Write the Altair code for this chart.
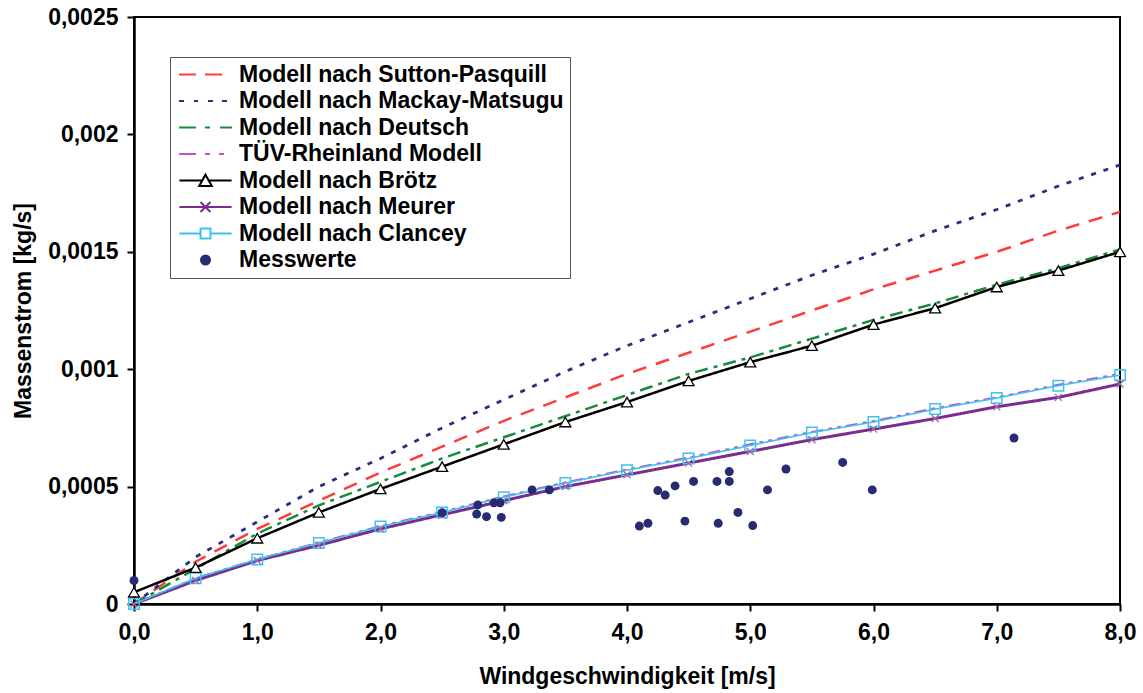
import altair as alt
import pandas as pd

# ---------------- data ----------------
x_vals = [0.0, 0.5, 1.0, 1.5, 2.0, 2.5, 3.0, 3.5, 4.0, 4.5, 5.0, 5.5, 6.0, 6.5, 7.0, 7.5, 8.0]

sutton = [0.0, 0.00018, 0.00032, 0.00044, 0.00056, 0.00067, 0.00078, 0.00088, 0.00098,
          0.00107, 0.00116, 0.00125, 0.00134, 0.00142, 0.00150, 0.00159, 0.00167]
mackay = [0.0, 0.00020, 0.00035, 0.00050, 0.00062, 0.00075, 0.00087, 0.00099, 0.00110,
          0.00120, 0.00130, 0.00140, 0.00149, 0.00159, 0.00168, 0.00178, 0.00187]
deutsch = [0.0, 0.00015, 0.00030, 0.00042, 0.00052, 0.00062, 0.00071, 0.00080, 0.00089,
           0.00098, 0.00105, 0.00113, 0.00121, 0.00128, 0.00136, 0.00143, 0.00151]
tuev = [0.0, 0.00011, 0.00019, 0.000262, 0.000332, 0.000393, 0.000458, 0.000518, 0.000573,
        0.000624, 0.00068, 0.000733, 0.000779, 0.000834, 0.00088, 0.000934, 0.00098]
broetz = [0.00005, 0.000155, 0.00028, 0.00039, 0.00049, 0.000585, 0.00068, 0.000775, 0.00086,
          0.00095, 0.00103, 0.00110, 0.00119, 0.00126, 0.00135, 0.00142, 0.00150]
meurer = [0.0, 0.00010, 0.000185, 0.00025, 0.00032, 0.00038, 0.00044, 0.00050, 0.00055,
          0.00060, 0.00065, 0.00070, 0.000745, 0.00079, 0.00084, 0.00088, 0.000937]
clancey = [0.0, 0.00011, 0.00019, 0.00026, 0.00033, 0.00039, 0.000455, 0.000515, 0.00057,
           0.00062, 0.000675, 0.00073, 0.000775, 0.00083, 0.000877, 0.00093, 0.000975]

mess_x = [0.0, 2.50, 2.79, 2.78, 2.86, 2.92, 2.97, 2.98, 3.23, 3.37, 4.10, 4.17, 4.25, 4.31,
          4.39, 4.47, 4.54, 4.73, 4.74, 4.83, 4.83, 4.90, 5.02, 5.14, 5.29, 5.75, 5.99, 7.14]
mess_y = [0.0001, 0.000389, 0.000422, 0.000383, 0.000372, 0.000431, 0.000431, 0.000369,
          0.000486, 0.000486, 0.000332, 0.000344, 0.000483, 0.000464, 0.000503, 0.000353,
          0.000522, 0.000522, 0.000344, 0.000564, 0.000522, 0.00039, 0.000334, 0.000486,
          0.000575, 0.000603, 0.000486, 0.000707]

models = ["Modell nach Sutton-Pasquill", "Modell nach Mackay-Matsugu", "Modell nach Deutsch",
          "TÜV-Rheinland Modell", "Modell nach Brötz", "Modell nach Meurer", "Modell nach Clancey"]
mess_name = "Messwerte"
model_values = [sutton, mackay, deutsch, tuev, broetz, meurer, clancey]

colors = ["#ff3b3b", "#2a2e7c", "#178a3c", "#c84fc0", "#000000", "#7b2d8e", "#3cc3f0"]
mess_color = "#262b72"
dashes = [[14, 10], [5, 8], [13, 6, 4, 6], [12, 5, 4, 5, 4, 5], [1, 0], [1, 0], [1, 0]]
widths = [2.5, 2.8, 2.5, 2, 2.5, 3, 1.6]

x_ticks = [0, 1, 2, 3, 4, 5, 6, 7, 8]
y_ticks = [0, 0.0005, 0.001, 0.0015, 0.002, 0.0025]

# ---------------- tables ----------------
rows = []
for name, vals, w in zip(models, model_values, widths):
    for xv, yv in zip(x_vals, vals):
        rows.append({"x": xv, "y": yv, "series": name, "w": w})
df = pd.DataFrame(rows)
df_mess = pd.DataFrame({"x": mess_x, "y": mess_y})

all_names = models + [mess_name]
df_leg = pd.DataFrame({"series": all_names, "x": [None] * 8, "y": [None] * 8})

FONT = "Liberation Sans"

xscale = alt.Scale(domain=[0, 8], nice=False)
yscale = alt.Scale(domain=[0, 0.0025], nice=False)

X = alt.X("x:Q", scale=xscale,
          axis=alt.Axis(title="Windgeschwindigkeit [m/s]", values=x_ticks, labelFlush=False,
                        labelExpr="replace(format(datum.value, '.1f'), '.', ',')"))
Y = alt.Y("y:Q", scale=yscale,
          axis=alt.Axis(title="Massenstrom [kg/s]", values=y_ticks, labelFlush=False,
                        labelExpr="replace(toString(datum.value), '.', ',')"))

lines = alt.Chart(df).mark_line(clip=True).encode(
    x=X, y=Y,
    color=alt.Color("series:N", scale=alt.Scale(domain=models, range=colors), legend=None),
    strokeDash=alt.StrokeDash("series:N", scale=alt.Scale(domain=models, range=dashes), legend=None),
    strokeWidth=alt.StrokeWidth("w:Q", scale=None),
    order=alt.Order("x:Q"),
)

x_path = "M-1,-1L1,1M-1,1L1,-1"

tri = alt.Chart(df).transform_filter(alt.datum.series == "Modell nach Brötz").mark_point(
    shape="triangle-up", filled=True, fill="white", stroke="black", strokeWidth=1.3, size=120, opacity=1
).encode(x=X, y=Y)

crs = alt.Chart(df).transform_filter(alt.datum.series == "Modell nach Meurer").mark_point(
    shape=x_path, filled=False, stroke="#a06ab0", strokeWidth=1.3, size=50, opacity=1
).encode(x=X, y=Y)

sq = alt.Chart(df).transform_filter(alt.datum.series == "Modell nach Clancey").mark_point(
    shape="square", filled=False, stroke="#3cc3f0", strokeWidth=1.5, size=110, opacity=1
).encode(x=X, y=Y)

mess = alt.Chart(df_mess).mark_circle(size=80, color=mess_color, opacity=1).encode(x=X, y=Y)

# legend symbols (line + marker drawn as custom paths)
leg_shapes = [
    "M-2.94,0L-1.06,0M-0.06,0L1.83,0",
    "M-2.94,0L-2.39,0M-1.28,0L-0.83,0M0.28,0L0.83,0M1.83,0L2.39,0",
    "M-2.94,0L-1.06,0M-0.06,0L0.5,0M1.61,0L2.94,0",
    "M-2.94,0L-1.06,0M-0.06,0L0.5,0M1.5,0L2.06,0",
    "M-2.9,0L-0.36,0M0.36,0L2.9,0M0,-0.65L0.7,0.6L-0.7,0.6Z",
    "M-2.9,0L2.9,0M-0.55,-0.55L0.55,0.55M-0.55,0.55L0.55,-0.55",
    "M-2.9,0L-0.55,0M0.55,0L2.9,0M-0.55,-0.55L0.55,-0.55L0.55,0.55L-0.55,0.55Z",
    "M-0.5,0A0.5,0.5 0 1,0 0.5,0A0.5,0.5 0 1,0 -0.5,0Z",
]
leg_strokes = colors + [mess_color]
leg_fills = ["white"] * 7 + [mess_color]

legend_def = alt.Legend(
    title=None, orient="none", legendX=36, legendY=40,
    labelFont=FONT, labelFontSize=23, labelFontWeight="bold", labelColor="black",
    labelLimit=600, symbolSize=324, symbolStrokeWidth=2, symbolOffset=18, labelOffset=22,
    rowPadding=2.5, padding=6, fillColor="white", strokeColor="#555555",
)

leg = alt.Chart(df_leg).mark_point(size=324, strokeWidth=2, opacity=1).encode(
    x=X, y=Y,
    shape=alt.Shape("series:N", scale=alt.Scale(domain=all_names, range=leg_shapes), legend=legend_def),
    stroke=alt.Stroke("series:N", scale=alt.Scale(domain=all_names, range=leg_strokes), legend=legend_def),
    fill=alt.Fill("series:N", scale=alt.Scale(domain=all_names, range=leg_fills), legend=legend_def),
)

chart = alt.layer(lines, sq, crs, tri, mess, leg).properties(
    width=986, height=587,
    autosize=alt.AutoSizeParams(type="none"),
    padding={"left": 134, "top": 17, "right": 23, "bottom": 89},
    background="white",
).configure_view(
    stroke="black", strokeWidth=2
).configure_axis(
    grid=False, domainColor="black", domainWidth=2.5, tickColor="black", tickWidth=2,
    tickSize=7, labelFont=FONT, labelFontSize=23, labelFontWeight="bold", labelColor="black",
    titleFont=FONT, titleFontSize=23, titleFontWeight="bold", titleColor="black",
).configure_axisY(
    labelPadding=9, titlePadding=12
).configure_axisX(
    labelPadding=10, titlePadding=21
)

chart.save("out.html", embed_options={"renderer": "svg", "actions": False})
